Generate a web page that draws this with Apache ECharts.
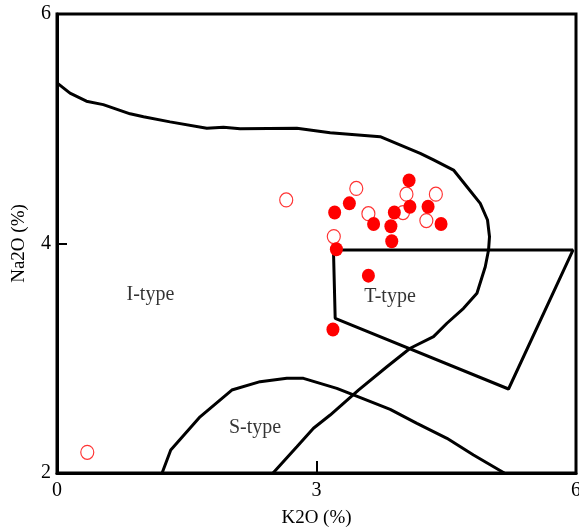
<!DOCTYPE html>
<html><head><meta charset="utf-8">
<script src="https://cdn.jsdelivr.net/npm/echarts@6/dist/echarts.min.js"></script>
<style>html,body{margin:0;padding:0;background:#fff}#c{width:579px;height:529px}</style>
</head><body><div id="c"></div>
<script>
// Filled samples [K2O, Na2O]
const filledPts = [
  [3.38,4.35],[3.21,4.27],[3.66,4.17],[3.90,4.27],[3.86,4.15],[3.87,4.02],
  [3.23,3.95],[4.07,4.55],[4.08,4.32],[4.29,4.32],[4.44,4.17],[3.60,3.72],[3.19,3.25]
];
// Open samples [K2O, Na2O]
const openPts = [
  [2.65,4.38],[3.46,4.48],[3.60,4.26],[4.00,4.27],[3.20,4.06],[4.04,4.43],
  [4.38,4.43],[4.27,4.20],[0.35,2.18]
];
// I-type / T-type boundary curve
const bigCurve = [
  [0,5.40],[0.15,5.31],[0.34,5.24],[0.535,5.21],[0.845,5.13],[1.0,5.105],[1.307,5.06],
  [1.732,5.004],[1.924,5.013],[2.117,5.0],[2.773,5.004],[3.158,4.966],[3.736,4.931],
  [4.199,4.786],[4.353,4.728],[4.584,4.64],[4.739,4.495],[4.893,4.35],[4.977,4.205],
  [5.0,4.059],[4.989,3.943],[4.951,3.798],[4.855,3.566],[4.70,3.435],[4.508,3.305],
  [4.353,3.188],[4.083,3.087],[3.814,2.926],[3.485,2.723],[3.158,2.505],[2.965,2.39],
  [2.773,2.229],[2.498,2.0]
];
// T-type field polygon
const tBox = [[3.196,3.943],[5.965,3.943],[5.22,2.732],[3.216,3.348],[3.196,3.943]];
// S-type boundary curve
const sCurve = [
  [1.215,2.0],[1.315,2.20],[1.654,2.49],[2.021,2.723],[2.348,2.796],[2.657,2.825],
  [2.849,2.825],[3.235,2.738],[3.427,2.68],[3.852,2.555],[4.161,2.433],[4.508,2.302],
  [4.815,2.157],[5.171,2.0]
];
// Field labels
const fieldNames = ['I-type','T-type','S-type'];
const fieldPos = [[1.08,3.55],[3.85,3.54],[2.29,2.39]];
const xTicks = [0,3,6];
const yTicks = [2,4,6];

const font = 'Liberation Serif';
const lineSer = (d) => ({type:'line', data:d, showSymbol:false, symbol:'none', silent:true,
  lineStyle:{color:'#000', width:3}, z:2, animation:false});

const chart = echarts.init(document.getElementById('c'));
chart.setOption({
  animation:false,
  backgroundColor:'#fff',
  grid:{left:57, right:3, top:14, bottom:56, containLabel:false, outerBoundsMode:'none',
    show:true, borderColor:'#000', borderWidth:3},
  xAxis:{type:'value', min:xTicks[0], max:xTicks[2], interval:3,
    name:'K2O (%)', nameLocation:'middle', nameGap:36,
    nameTextStyle:{fontFamily:font, fontSize:19, color:'#000'},
    axisLine:{show:true, lineStyle:{color:'#000', width:3}},
    axisTick:{show:true, inside:true, length:12, lineStyle:{color:'#000', width:2}},
    axisLabel:{fontFamily:font, fontSize:20, color:'#000', margin:8},
    splitLine:{show:false}},
  yAxis:{type:'value', min:yTicks[0], max:yTicks[2], interval:2,
    name:'Na2O (%)', nameLocation:'middle', nameGap:28,
    nameTextStyle:{fontFamily:font, fontSize:19, color:'#000'},
    axisLine:{show:true, lineStyle:{color:'#000', width:3}},
    axisTick:{show:true, inside:true, length:10, lineStyle:{color:'#000', width:2}},
    axisLabel:{fontFamily:font, fontSize:20, color:'#000', margin:6},
    splitLine:{show:false}},
  series:[
    lineSer(bigCurve), lineSer(tBox), lineSer(sCurve),
    {type:'scatter', data:fieldPos.map((p,i)=>({value:p, name:fieldNames[i]})), symbolSize:1,
      itemStyle:{color:'rgba(0,0,0,0)'}, silent:true,
      label:{show:true, position:'inside', formatter:p=>p.name, fontFamily:font, fontSize:20, color:'#000'}},
    {type:'scatter', data:openPts, symbol:'circle', symbolSize:[13,14],
      itemStyle:{color:'#fff', borderColor:'#ff0000', borderWidth:1.2}, z:5},
    {type:'scatter', data:filledPts, symbol:'circle', symbolSize:[13,14],
      itemStyle:{color:'#ff0000', opacity:1}, z:6}
  ]
});
</script></body></html>
